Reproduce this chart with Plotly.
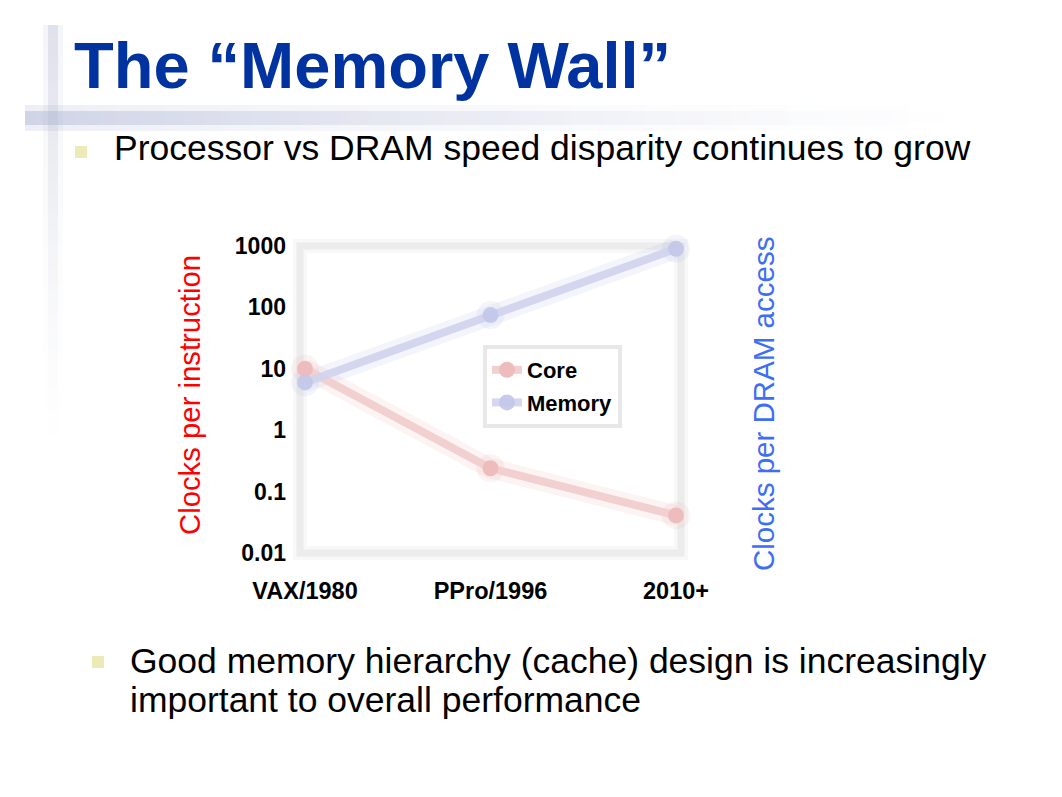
import plotly.graph_objects as go

W, H = 1062, 797

# ---------------- data ----------------
categories = ["VAX/1980", "PPro/1996", "2010+"]
core = [10, 0.24, 0.041]
memory = [6, 75, 900]
ytick_vals = [0.01, 0.1, 1, 10, 100, 1000]
ytick_text = ["0.01", "0.1", "1", "10", "100", "1000"]


def px(x):
    return x / W


def py(y):
    return 1 - y / H


FONT = "Arial, 'Liberation Sans', sans-serif"

fig = go.Figure()

# soft halo (blur imitation) traces
fig.add_trace(go.Scatter(x=categories, y=core, mode="lines+markers",
                         line=dict(color="rgba(236,170,170,0.14)", width=20),
                         marker=dict(size=28, color="rgba(236,170,170,0.14)"),
                         showlegend=False, hoverinfo="skip", cliponaxis=False))
fig.add_trace(go.Scatter(x=categories, y=memory, mode="lines+markers",
                         line=dict(color="rgba(180,186,226,0.14)", width=20),
                         marker=dict(size=28, color="rgba(180,186,226,0.14)"),
                         showlegend=False, hoverinfo="skip", cliponaxis=False))

# main traces
fig.add_trace(go.Scatter(x=categories, y=core, mode="lines+markers", name="Core",
                         line=dict(color="#f3d0d0", width=8),
                         marker=dict(size=16, color="#eebcbc"),
                         legendgroup="a", cliponaxis=False))
fig.add_trace(go.Scatter(x=categories, y=memory, mode="lines+markers", name="Memory",
                         line=dict(color="rgba(208,211,238,0.9)", width=8),
                         marker=dict(size=16, color="rgba(194,198,232,0.9)"),
                         legendgroup="b", cliponaxis=False))

shapes = []

# chart frame (blurred grey box)
for w, c in [(14, "rgba(236,236,236,0.35)"), (7, "rgba(234,234,234,0.85)")]:
    shapes.append(dict(type="rect", xref="paper", yref="paper",
                       x0=px(300), x1=px(681), y0=py(553), y1=py(246),
                       line=dict(color=c, width=w), fillcolor="rgba(0,0,0,0)",
                       layer="below"))

# slide decoration: horizontal blurred bar
seg = 5
x_start, x_end = 25, 1010
N = (x_end - x_start) // seg
for i in range(N):
    a = 0.55 * (1 - i / N) ** 1.5
    x0 = x_start + i * seg
    shapes.append(dict(type="rect", xref="paper", yref="paper",
                       x0=px(x0), x1=px(x0 + seg), y0=py(131), y1=py(105),
                       line=dict(width=0), fillcolor=f"rgba(150,160,200,{a*0.3:.3f})",
                       layer="below"))
    shapes.append(dict(type="rect", xref="paper", yref="paper",
                       x0=px(x0), x1=px(x0 + seg), y0=py(125), y1=py(111),
                       line=dict(width=0), fillcolor=f"rgba(140,150,195,{a*0.55:.3f})",
                       layer="below"))

# slide decoration: vertical blurred bar
segv = 5
y_start, y_end = 25, 470
M = (y_end - y_start) // segv
for i in range(M):
    a = 0.45 * (1 - i / M) ** 1.6
    y0 = y_start + i * segv
    shapes.append(dict(type="rect", xref="paper", yref="paper",
                       x0=px(43), x1=px(63), y0=py(y0 + segv), y1=py(y0),
                       line=dict(width=0), fillcolor=f"rgba(170,178,205,{a*0.3:.3f})",
                       layer="below"))
    shapes.append(dict(type="rect", xref="paper", yref="paper",
                       x0=px(48), x1=px(58), y0=py(y0 + segv), y1=py(y0),
                       line=dict(width=0), fillcolor=f"rgba(165,172,200,{a*0.6:.3f})",
                       layer="below"))

# bullets
for (bx0, by0) in [(75, 146), (92, 656)]:
    shapes.append(dict(type="rect", xref="paper", yref="paper",
                       x0=px(bx0), x1=px(bx0 + 12), y0=py(by0 + 12), y1=py(by0),
                       line=dict(width=0), fillcolor="#ecebb8"))

annotations = [
    dict(text="The “Memory Wall”", x=px(72), y=py(65), xref="paper", yref="paper",
         xanchor="left", yanchor="middle", showarrow=False,
         font=dict(family=FONT, size=65, color="#0033a0", weight="bold")),
    dict(text="Processor vs DRAM speed disparity continues to grow", x=px(112), y=py(148),
         xref="paper", yref="paper", xanchor="left", yanchor="middle", showarrow=False,
         font=dict(family=FONT, size=35.5, color="black")),
    dict(text="Good memory hierarchy (cache) design is increasingly", x=px(128), y=py(661),
         xref="paper", yref="paper", xanchor="left", yanchor="middle", showarrow=False,
         font=dict(family=FONT, size=35.5, color="black")),
    dict(text="important to overall performance", x=px(128), y=py(700),
         xref="paper", yref="paper", xanchor="left", yanchor="middle", showarrow=False,
         font=dict(family=FONT, size=35.5, color="black")),
    dict(text="Clocks per instruction", x=px(189), y=py(395), xref="paper", yref="paper",
         xanchor="center", yanchor="middle", textangle=-90, showarrow=False,
         font=dict(family=FONT, size=29.3, color="#ff0000")),
    dict(text="Clocks per DRAM access", x=px(763), y=py(404), xref="paper", yref="paper",
         xanchor="center", yanchor="middle", textangle=-90, showarrow=False,
         font=dict(family=FONT, size=29.5, color="#3d6ef5")),
]

x_left, x_right = 290, 692
x0_cat, x_step = 305, 185.5
y_top, y_bot = 238, 562
y_1000, dec = 246, 61.4

fig.update_layout(
    width=W, height=H,
    margin=dict(l=0, r=0, t=0, b=0, pad=0),
    paper_bgcolor="white", plot_bgcolor="rgba(0,0,0,0)",
    shapes=shapes, annotations=annotations,
    xaxis=dict(domain=[px(x_left), px(x_right)], type="category", automargin=False,
               range=[(x_left - x0_cat) / x_step, (x_right - x0_cat) / x_step],
               showgrid=False, zeroline=False, showline=False, ticks="",
               tickfont=dict(family=FONT, size=23.5, color="black", weight="bold"),
               ticklabelstandoff=12),
    yaxis=dict(domain=[py(y_bot), py(y_top)], type="log", automargin=False,
               range=[-2 - (y_bot - 553) / dec, 3 + (y_1000 - y_top) / dec],
               tickvals=ytick_vals, ticktext=ytick_text,
               showgrid=False, zeroline=False, showline=False, ticks="",
               tickfont=dict(family=FONT, size=23, color="black", weight="bold"),
               ticklabelstandoff=3),
    legend=dict(x=px(483), y=py(345), xanchor="left", yanchor="top",
                bgcolor="white", bordercolor="rgba(230,230,230,0.9)", borderwidth=4,
                font=dict(family=FONT, size=22, color="black", weight="bold"),
                tracegroupgap=1),
    showlegend=True,
)

fig.write_html("out.html")
